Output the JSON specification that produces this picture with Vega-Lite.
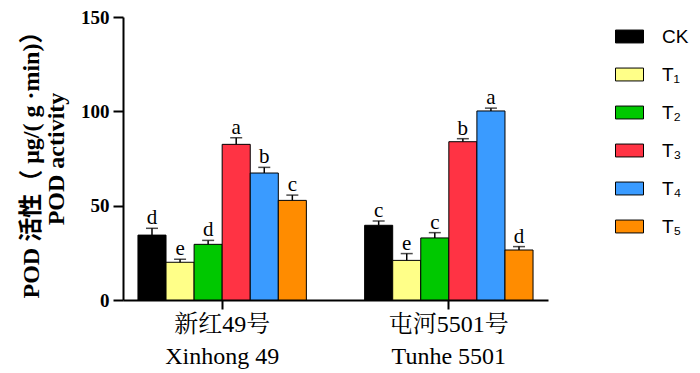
{
  "$schema": "https://vega.github.io/schema/vega-lite/v6.json",
  "width": 425,
  "height": 283,
  "autosize": {"type": "none"},
  "padding": {"left": 123, "top": 17, "right": 152, "bottom": 73},
  "background": "white",
  "config": {
    "view": {"stroke": null},
    "axis": {"grid": false, "domainColor": "black", "tickColor": "black", "labelColor": "black", "titleColor": "black", "domainWidth": 2, "tickWidth": 2},
    "axisY": {
      "labelFont": "Liberation Serif", "labelFontWeight": "bold", "labelFontSize": 19,
      "labelPadding": 4, "tickSize": 10,
      "titleFont": "Liberation Serif, Noto Sans CJK SC", "titleFontWeight": "bold",
      "titleFontSize": 24, "titleLineHeight": 25, "titlePadding": 12
    },
    "axisX": {
      "labelFont": "Liberation Serif, Noto Serif CJK SC, Noto Sans CJK SC",
      "labelFontSize": 24, "labelLineHeight": 32, "labelPadding": 3, "tickSize": 9
    }
  },
  "data": {
    "values": [
      {"group": "新红49号|Xinhong 49", "trt": "CK", "value": 34.4, "err": 38.0, "letter": "d"},
      {"group": "新红49号|Xinhong 49", "trt": "T₁", "value": 20.0, "err": 21.6, "letter": "e"},
      {"group": "新红49号|Xinhong 49", "trt": "T₂", "value": 29.5, "err": 31.6, "letter": "d"},
      {"group": "新红49号|Xinhong 49", "trt": "T₃", "value": 82.5, "err": 86.0, "letter": "a"},
      {"group": "新红49号|Xinhong 49", "trt": "T₄", "value": 67.3, "err": 70.3, "letter": "b"},
      {"group": "新红49号|Xinhong 49", "trt": "T₅", "value": 52.8, "err": 55.6, "letter": "c"},
      {"group": "屯河5501号|Tunhe 5501", "trt": "CK", "value": 39.6, "err": 41.9, "letter": "c"},
      {"group": "屯河5501号|Tunhe 5501", "trt": "T₁", "value": 21.0, "err": 24.6, "letter": "e"},
      {"group": "屯河5501号|Tunhe 5501", "trt": "T₂", "value": 32.9, "err": 35.7, "letter": "c"},
      {"group": "屯河5501号|Tunhe 5501", "trt": "T₃", "value": 83.9, "err": 85.5, "letter": "b"},
      {"group": "屯河5501号|Tunhe 5501", "trt": "T₄", "value": 100.2, "err": 101.7, "letter": "a"},
      {"group": "屯河5501号|Tunhe 5501", "trt": "T₅", "value": 26.5, "err": 28.3, "letter": "d"}
    ]
  },
  "encoding": {
    "x": {
      "field": "group", "type": "nominal", "sort": null,
      "scale": {"paddingInner": 0.257, "paddingOuter": 0.066},
      "axis": {"title": null, "labelAngle": 0, "labelExpr": "split(datum.label, '|')"}
    },
    "xOffset": {
      "field": "trt", "type": "nominal",
      "sort": ["CK", "T₁", "T₂", "T₃", "T₄", "T₅"],
      "scale": {"paddingInner": 0, "paddingOuter": 0}
    }
  },
  "layer": [
    {
      "mark": {"type": "bar", "stroke": "black", "strokeWidth": 1},
      "encoding": {
        "y": {
          "field": "value", "type": "quantitative",
          "scale": {"domain": [0, 150], "nice": false},
          "axis": {"title": ["POD 活性（ μg/( g ·min)）", "POD activity"], "values": [0, 50, 100, 150]}
        },
        "fill": {
          "field": "trt", "type": "nominal",
          "scale": {
            "domain": ["CK", "T₁", "T₂", "T₃", "T₄", "T₅"],
            "range": ["#000000", "#ffff88", "#00c800", "#ff3344", "#3a9bff", "#ff8c00"]
          },
          "legend": {
            "orient": "none", "legendX": 492, "legendY": 5,
            "title": null, "padding": 0,
            "symbolType": "M-1,-0.46H1V0.46H-1Z",
            "symbolSize": 784, "symbolStrokeColor": "black", "symbolStrokeWidth": 1,
            "symbolOpacity": 1,
            "labelFont": "Liberation Sans, DejaVu Sans", "labelFontSize": 19,
            "labelColor": "black", "labelOffset": 18, "rowPadding": 13
          }
        }
      }
    },
    {
      "mark": {"type": "rule", "strokeWidth": 1.5, "color": "black"},
      "encoding": {
        "y": {"field": "value", "type": "quantitative", "scale": {"domain": [0, 150], "nice": false}},
        "y2": {"field": "err"}
      }
    },
    {
      "mark": {"type": "tick", "size": 12, "thickness": 1.5, "color": "black", "orient": "horizontal"},
      "encoding": {
        "y": {"field": "err", "type": "quantitative", "scale": {"domain": [0, 150], "nice": false}}
      }
    },
    {
      "mark": {"type": "text", "font": "Liberation Serif", "fontSize": 21, "baseline": "alphabetic", "dy": -4, "color": "black"},
      "encoding": {
        "y": {"field": "err", "type": "quantitative", "scale": {"domain": [0, 150], "nice": false}},
        "text": {"field": "letter"}
      }
    }
  ]
}
